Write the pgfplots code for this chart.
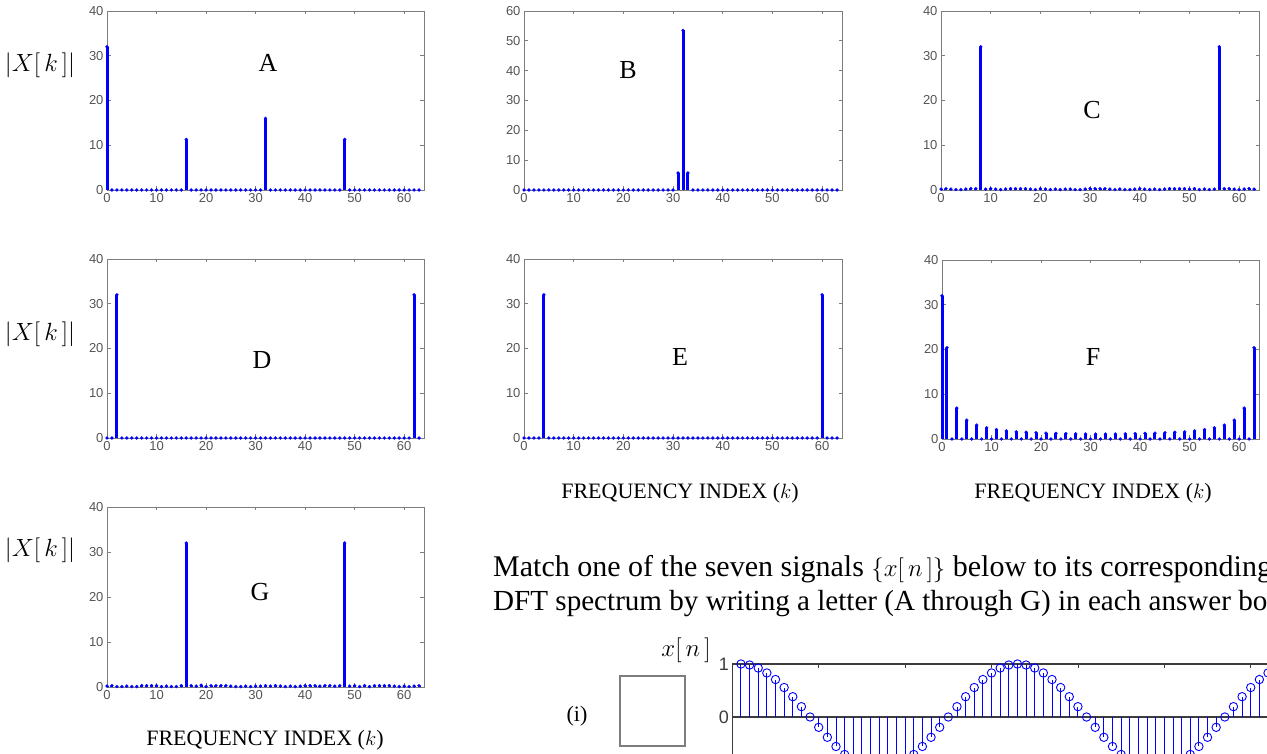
\documentclass[border=0pt]{standalone}
\usepackage{pgfplots}
\pgfplotsset{compat=1.18}
\usepackage{fontspec}
\setmainfont{Liberation Serif}
\newfontfamily\arial{Liberation Sans}
\definecolor{mblue}{RGB}{0,0,255}
\definecolor{axgray}{RGB}{125,125,125}
\definecolor{lblgray}{RGB}{85,85,85}
\definecolor{dkgray}{RGB}{60,60,60}
\pgfplotsset{
  dft/.style={
    scale only axis, width=317pt, height=179pt, anchor=south west,
    xmin=0, xmax=64, ymin=0, ymax=40,
    xtick={0,10,...,60}, ytick={0,10,...,40},
    tick align=inside, major tick length=3.5pt,
    axis line style={axgray, line width=0.8pt},
    every tick/.style={axgray, line width=0.8pt},
    tick label style={font=\arial\fontsize{13}{13}\selectfont, text=lblgray},
    /pgf/number format/assume math mode=true,
  },
  stem/.style={mblue, line width=3pt, ycomb, mark=*, mark size=1.6pt,
    mark options={line width=0.2pt, fill=mblue}},
}
\newcommand{\Xk}{\fontsize{23}{23}\selectfont$|X[\,k\,]|$}
\newcommand{\FI}{\fontsize{22}{22}\selectfont FREQUENCY INDEX ($k$)}
\newcommand{\Let}[1]{\fontsize{26}{26}\selectfont #1}
\begin{document}
\begin{tikzpicture}[x=1pt,y=1pt]
\path[use as bounding box] (0,0) rectangle (1267,754);
\clip (0,0) rectangle (1267,754);

% ---------- A ----------
\begin{axis}[dft, at={(107pt,564pt)}, clip=false]
\addplot[stem] coordinates {(0,32)(1,0)(2,0)(3,0)(4,0)(5,0)(6,0)(7,0)(8,0)(9,0)(10,0)(11,0)(12,0)(13,0)(14,0)(15,0)(16,11.3)(17,0)(18,0)(19,0)(20,0)(21,0)(22,0)(23,0)(24,0)(25,0)(26,0)(27,0)(28,0)(29,0)(30,0)(31,0)(32,16)(33,0)(34,0)(35,0)(36,0)(37,0)(38,0)(39,0)(40,0)(41,0)(42,0)(43,0)(44,0)(45,0)(46,0)(47,0)(48,11.3)(49,0)(50,0)(51,0)(52,0)(53,0)(54,0)(55,0)(56,0)(57,0)(58,0)(59,0)(60,0)(61,0)(62,0)(63,0)};
\end{axis}
% ---------- B ----------
\begin{axis}[dft, at={(524pt,564pt)}, width=318pt, ymax=60, ytick={0,10,...,60}]
\addplot[stem] coordinates {(0,0)(1,0)(2,0)(3,0)(4,0)(5,0)(6,0)(7,0)(8,0)(9,0)(10,0)(11,0)(12,0)(13,0)(14,0)(15,0)(16,0)(17,0)(18,0)(19,0)(20,0)(21,0)(22,0)(23,0)(24,0)(25,0)(26,0)(27,0)(28,0)(29,0)(30,0)(31,5.7)(32,53.5)(33,5.7)(34,0)(35,0)(36,0)(37,0)(38,0)(39,0)(40,0)(41,0)(42,0)(43,0)(44,0)(45,0)(46,0)(47,0)(48,0)(49,0)(50,0)(51,0)(52,0)(53,0)(54,0)(55,0)(56,0)(57,0)(58,0)(59,0)(60,0)(61,0)(62,0)(63,0)};
\end{axis}
% ---------- C ----------
\begin{axis}[dft, at={(941pt,564pt)}, width=318pt]
\addplot[stem] coordinates {(0,0.2)(1,0.3)(2,0.2)(3,0.1)(4,0.1)(5,0.2)(6,0.3)(7,0.3)(8,32)(9,0.2)(10,0.3)(11,0.2)(12,0.1)(13,0.2)(14,0.3)(15,0.3)(16,0.3)(17,0.3)(18,0.2)(19,0.1)(20,0.3)(21,0.2)(22,0.1)(23,0.2)(24,0.1)(25,0.2)(26,0.2)(27,0.1)(28,0.1)(29,0.2)(30,0.3)(31,0.3)(32,0.3)(33,0.3)(34,0.2)(35,0.1)(36,0.2)(37,0.1)(38,0.1)(39,0.2)(40,0.3)(41,0.2)(42,0.1)(43,0.2)(44,0.1)(45,0.2)(46,0.3)(47,0.3)(48,0.3)(49,0.3)(50,0.2)(51,0.3)(52,0.1)(53,0.2)(54,0.1)(55,0.2)(56,32)(57,0.3)(58,0.3)(59,0.2)(60,0.1)(61,0.2)(62,0.3)(63,0.2)};
\end{axis}
% ---------- D ----------
\begin{axis}[dft, at={(107pt,316pt)}]
\addplot[stem] coordinates {(0,0)(1,0)(2,32)(3,0)(4,0)(5,0)(6,0)(7,0)(8,0)(9,0)(10,0)(11,0)(12,0)(13,0)(14,0)(15,0)(16,0)(17,0)(18,0)(19,0)(20,0)(21,0)(22,0)(23,0)(24,0)(25,0)(26,0)(27,0)(28,0)(29,0)(30,0)(31,0)(32,0)(33,0)(34,0)(35,0)(36,0)(37,0)(38,0)(39,0)(40,0)(41,0)(42,0)(43,0)(44,0)(45,0)(46,0)(47,0)(48,0)(49,0)(50,0)(51,0)(52,0)(53,0)(54,0)(55,0)(56,0)(57,0)(58,0)(59,0)(60,0)(61,0)(62,32)(63,0)};
\end{axis}
% ---------- E ----------
\begin{axis}[dft, at={(524pt,316pt)}, width=318pt]
\addplot[stem] coordinates {(0,0)(1,0)(2,0)(3,0)(4,32)(5,0)(6,0)(7,0)(8,0)(9,0)(10,0)(11,0)(12,0)(13,0)(14,0)(15,0)(16,0)(17,0)(18,0)(19,0)(20,0)(21,0)(22,0)(23,0)(24,0)(25,0)(26,0)(27,0)(28,0)(29,0)(30,0)(31,0)(32,0)(33,0)(34,0)(35,0)(36,0)(37,0)(38,0)(39,0)(40,0)(41,0)(42,0)(43,0)(44,0)(45,0)(46,0)(47,0)(48,0)(49,0)(50,0)(51,0)(52,0)(53,0)(54,0)(55,0)(56,0)(57,0)(58,0)(59,0)(60,32)(61,0)(62,0)(63,0)};
\end{axis}
% ---------- F ----------
\begin{axis}[dft, at={(942pt,315pt)}, clip=false]
\addplot[stem] coordinates {(0,32)(1,20.4)(2,0)(3,6.9)(4,0)(5,4.2)(6,0)(7,3.1)(8,0)(9,2.5)(10,0)(11,2.1)(12,0)(13,1.8)(14,0)(15,1.6)(16,0)(17,1.5)(18,0)(19,1.4)(20,0)(21,1.3)(22,0)(23,1.25)(24,0)(25,1.2)(26,0)(27,1.15)(28,0)(29,1.1)(30,0)(31,1.1)(32,0)(33,1.1)(34,0)(35,1.1)(36,0)(37,1.15)(38,0)(39,1.2)(40,0)(41,1.25)(42,0)(43,1.3)(44,0)(45,1.4)(46,0)(47,1.5)(48,0)(49,1.6)(50,0)(51,1.8)(52,0)(53,2.1)(54,0)(55,2.5)(56,0)(57,3.1)(58,0)(59,4.2)(60,0)(61,6.9)(62,0)(63,20.4)};
\end{axis}
% ---------- G ----------
\begin{axis}[dft, at={(107pt,67pt)}, height=180pt]
\addplot[stem] coordinates {(0,0.2)(1,0.3)(2,0.1)(3,0.1)(4,0.2)(5,0.1)(6,0.1)(7,0.3)(8,0.3)(9,0.3)(10,0.3)(11,0.1)(12,0.2)(13,0.1)(14,0.1)(15,0.3)(16,32)(17,0.3)(18,0.2)(19,0.4)(20,0.1)(21,0.3)(22,0.3)(23,0.3)(24,0.3)(25,0.2)(26,0.1)(27,0.1)(28,0.2)(29,0.1)(30,0.2)(31,0.2)(32,0.3)(33,0.2)(34,0.3)(35,0.2)(36,0.1)(37,0.2)(38,0.1)(39,0.2)(40,0.3)(41,0.3)(42,0.3)(43,0.2)(44,0.3)(45,0.3)(46,0.2)(47,0.3)(48,32)(49,0.2)(50,0.3)(51,0.1)(52,0.3)(53,0.1)(54,0.3)(55,0.3)(56,0.3)(57,0.3)(58,0.2)(59,0.1)(60,0.2)(61,0.1)(62,0.2)(63,0.3)};
\end{axis}

% ---------- bottom stem plot (i) ----------
\begin{axis}[scale only axis, anchor=south west, at={(732.3pt,-16pt)},
  width=553pt, height=106pt, xmin=0, xmax=64, ymin=-1, ymax=1,
  xtick={0,10,...,60}, ytick={0,1}, xticklabels={},
  tick align=inside, major tick length=4pt,
  axis line style={dkgray, line width=1.1pt},
  every tick/.style={dkgray, line width=0.8pt},
  yticklabel style={font=\arial\fontsize{18}{18}\selectfont, text=dkgray},
  /pgf/number format/assume math mode=true]
\addplot[dkgray, line width=1.1pt] coordinates {(0,0) (64,0)};
\addplot[mblue, line width=0.9pt, ycomb, mark=o, mark size=4.2pt,
  mark options={line width=0.9pt}] coordinates {
(1,1.000)(2,0.981)(3,0.924)(4,0.831)(5,0.707)(6,0.556)(7,0.383)(8,0.195)(9,0)(10,-0.195)(11,-0.383)(12,-0.556)(13,-0.707)(14,-0.831)(15,-0.924)(16,-0.981)(17,-1)(18,-0.981)(19,-0.924)(20,-0.831)(21,-0.707)(22,-0.556)(23,-0.383)(24,-0.195)(25,0)(26,0.195)(27,0.383)(28,0.556)(29,0.707)(30,0.831)(31,0.924)(32,0.981)
(33,1.000)(34,0.981)(35,0.924)(36,0.831)(37,0.707)(38,0.556)(39,0.383)(40,0.195)(41,0)(42,-0.195)(43,-0.383)(44,-0.556)(45,-0.707)(46,-0.831)(47,-0.924)(48,-0.981)(49,-1)(50,-0.981)(51,-0.924)(52,-0.831)(53,-0.707)(54,-0.556)(55,-0.383)(56,-0.195)(57,0)(58,0.195)(59,0.383)(60,0.556)(61,0.707)(62,0.831)(63,0.924)(64,0.981)};
\end{axis}

% ---------- labels ----------
\node at (40,689) {\Xk};
\node at (40,420) {\Xk};
\node at (40,204) {\Xk};
\node at (268,691) {\Let{A}};
\node at (628,684) {\Let{B}};
\node at (1092,644) {\Let{C}};
\node at (262,394) {\Let{D}};
\node at (680,397) {\Let{E}};
\node at (1093,397) {\Let{F}};
\node at (260,162) {\Let{G}};
\node at (680,261) {\FI};
\node at (1093,261) {\FI};
\node at (265,14) {\FI};
\node[anchor=base west, inner sep=0pt] at (493,177) {\fontsize{30}{30}\selectfont Match one of the seven signals $\{x[\,n\,]\}$ below to its corresponding};
\node[anchor=base west, inner sep=0pt] at (493,143) {\fontsize{29.1}{30}\selectfont DFT spectrum by writing a letter (A through G) in each answer box.};
\node at (577,38) {\fontsize{22}{22}\selectfont (i)};
\draw[axgray, line width=1.5pt] (620,8) rectangle (685,78);
\node at (686,104) {\fontsize{23}{23}\selectfont $x[\,n\,]$};
\end{tikzpicture}
\end{document}
